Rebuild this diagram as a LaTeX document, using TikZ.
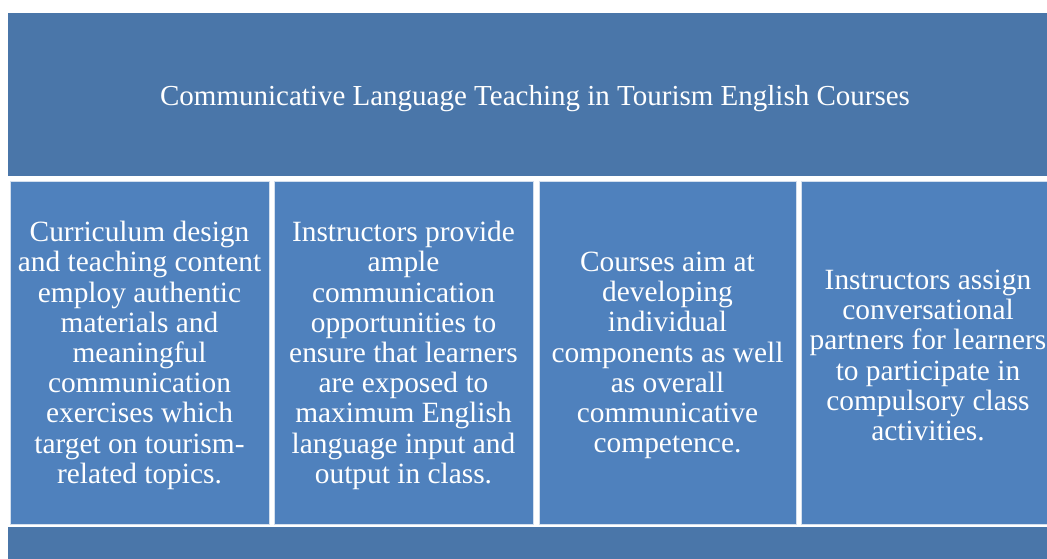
\documentclass[tikz,border=0pt]{standalone}
\usepackage{fontspec}
\setmainfont{Liberation Serif}
\definecolor{bandblue}{HTML}{4A76A9}
\definecolor{cellblue}{HTML}{4F81BD}
\begin{document}
\begin{tikzpicture}[x=1pt,y=-1pt,
  band/.style={fill=bandblue,draw=none,inner sep=0pt},
  cell/.style={fill=cellblue,draw=white!75!cellblue,line width=0.6pt,inner sep=0pt,
    minimum width=259pt,minimum height=343pt},
  headtext/.style={text=white,inner sep=0pt,font=\fontsize{29}{32}\selectfont},
  celltext/.style={text=white,inner sep=0pt,align=center,
    font=\fontsize{29.4}{30.2}\selectfont}]
\useasboundingbox (0,0) rectangle (1047,558);
\clip (0,0) rectangle (1047,558);
\fill[white] (0,0) rectangle (1047,558);
% heading band and bottom band
\node[band,minimum width=1054pt,minimum height=163pt] (head) at (535,94.5) {};
\node[band,minimum width=1054pt,minimum height=40pt] (foot) at (535,547) {};
\node[headtext,yshift=-4pt] (headlabel) at (head.center)
  {Communicative Language Teaching in Tourism English Courses};
% four content cells
\node[cell] (c1) at (139.5,352.5) {};
\node[cell] (c2) at (403.5,352.5) {};
\node[cell,minimum width=257pt] (c3) at (667.5,352.5) {};
\node[cell,minimum width=254pt] (c4) at (928,352.5) {};
\node[celltext,yshift=-3pt] (t1) at (c1.center) {Curriculum design\\and teaching content\\employ authentic\\materials and\\meaningful\\communication\\exercises which\\target on tourism-\\related topics.};
\node[celltext,yshift=-3pt] (t2) at (c2.center) {Instructors provide\\ample\\communication\\opportunities to\\ensure that learners\\are exposed to\\maximum English\\language input and\\output in class.};
\node[celltext,yshift=-3pt] (t3) at (c3.center) {Courses aim at\\developing\\individual\\components as well\\as overall\\communicative\\competence.};
\node[celltext,yshift=-3pt] (t4) at (c4.center) {Instructors assign\\conversational\\partners for learners\\to participate in\\compulsory class\\activities.};
\end{tikzpicture}
\end{document}
